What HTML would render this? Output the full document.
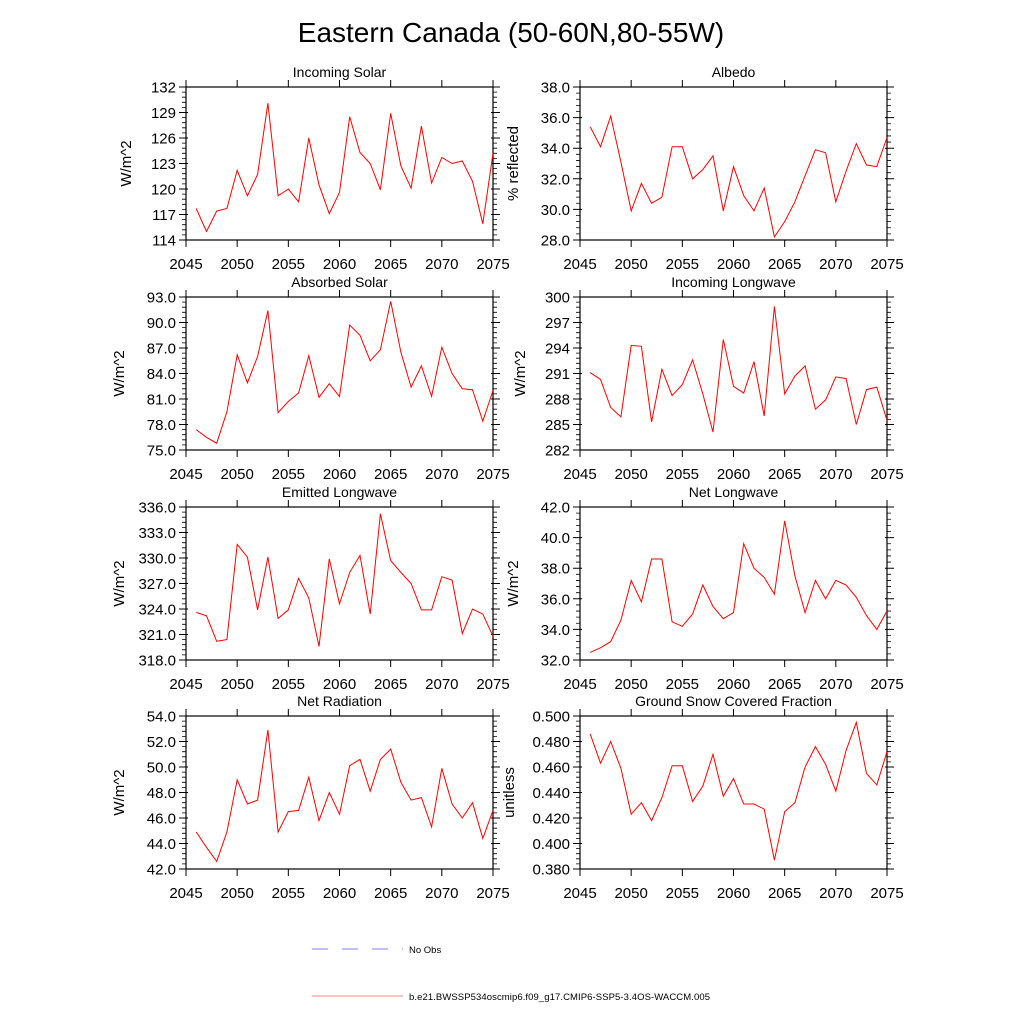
<!DOCTYPE html>
<html><head><meta charset="utf-8"><style>
html,body{margin:0;padding:0;background:#fff;}
svg text{font-family:"Liberation Sans",Arial,sans-serif;fill:#000;}
</style></head><body>
<svg id="chart" width="1024" height="1024" viewBox="0 0 1024 1024" xmlns="http://www.w3.org/2000/svg">
<rect width="1024" height="1024" fill="#fff"/>
<text x="511" y="42" font-size="28" text-anchor="middle">Eastern Canada (50-60N,80-55W)</text>
<g id="panels"></g>
<g>
<line x1="312" y1="949" x2="403" y2="949" stroke="#8080ff" stroke-width="1" stroke-dasharray="16,14"/>
<text x="409" y="953" font-size="9.5">No Obs</text>
<line x1="312" y1="996" x2="403" y2="996" stroke="#ff8080" stroke-width="1"/>
<text x="409" y="1000" font-size="9.5" textLength="301">b.e21.BWSSP534oscmip6.f09_g17.CMIP6-SSP5-3.4OS-WACCM.005</text>
</g>
</svg>
<script>
const years = [2046,2047,2048,2049,2050,2051,2052,2053,2054,2055,2056,2057,2058,2059,2060,2061,2062,2063,2064,2065,2066,2067,2068,2069,2070,2071,2072,2073,2074,2075];
const xTicks = [2045,2050,2055,2060,2065,2070,2075];
const incomingSolar = [117.7,115.0,117.4,117.7,122.2,119.2,121.7,130.1,119.2,120.0,118.5,126.0,120.5,117.1,119.6,128.5,124.3,123.0,119.9,128.9,122.7,120.1,127.4,120.7,123.7,123.0,123.3,120.9,115.9,124.2];
const albedo = [35.4,34.1,36.1,33.1,29.9,31.7,30.4,30.8,34.1,34.1,32.0,32.6,33.5,29.9,32.8,30.9,29.9,31.4,28.2,29.2,30.5,32.2,33.9,33.7,30.5,32.5,34.3,32.9,32.8,34.7];
const absorbedSolar = [77.4,76.5,75.8,79.5,86.2,82.9,86.0,91.4,79.4,80.7,81.7,86.1,81.2,82.8,81.3,89.7,88.5,85.5,86.8,92.5,86.5,82.4,84.9,81.3,87.1,84.0,82.2,82.1,78.4,82.0];
const incomingLW = [291.1,290.3,287.0,285.9,294.3,294.2,285.3,291.5,288.4,289.7,292.6,288.6,284.1,295.0,289.5,288.7,292.4,286.0,298.9,288.6,290.7,291.9,286.8,287.9,290.6,290.4,285.0,289.1,289.4,285.5];
const emittedLW = [323.6,323.2,320.2,320.4,331.6,330.1,323.9,330.1,322.9,323.9,327.6,325.3,319.6,329.9,324.6,328.3,330.3,323.4,335.2,329.7,328.3,327.0,323.9,323.9,327.8,327.4,321.1,324.0,323.4,320.8];
const netLW = [32.5,32.8,33.2,34.6,37.2,35.8,38.6,38.6,34.5,34.2,35.0,36.9,35.5,34.7,35.1,39.6,38.0,37.4,36.3,41.1,37.5,35.1,37.2,36.0,37.2,36.9,36.1,34.9,34.0,35.2];
const netRad = [44.9,43.7,42.6,44.9,49.0,47.1,47.4,52.9,44.9,46.5,46.6,49.2,45.8,48.0,46.3,50.1,50.6,48.1,50.6,51.4,48.8,47.4,47.6,45.3,49.9,47.1,46.0,47.2,44.4,46.6];
const snowFrac = [0.486,0.463,0.480,0.459,0.423,0.432,0.418,0.436,0.461,0.461,0.433,0.445,0.470,0.437,0.451,0.431,0.431,0.427,0.387,0.425,0.432,0.460,0.476,0.462,0.441,0.473,0.495,0.455,0.446,0.472];
const yTicksSolar = [114,117,120,123,126,129,132];
const yTicksAlbedo = [28,30,32,34,36,38];
const yTicksAbs = [75,78,81,84,87,90,93];
const yTicksILW = [282,285,288,291,294,297,300];
const yTicksELW = [318,321,324,327,330,333,336];
const yTicksNLW = [32,34,36,38,40,42];
const yTicksNR = [42,44,46,48,50,52,54];
const yTicksSnow = [0.38,0.40,0.42,0.44,0.46,0.48,0.50];

const panels = [
 {name:'incoming-solar',title:'Incoming Solar',ylab:'W/m^2',data:incomingSolar,ticks:yTicksSolar,dec:0,col:0,row:0},
 {name:'albedo',title:'Albedo',ylab:'% reflected',data:albedo,ticks:yTicksAlbedo,dec:1,col:1,row:0},
 {name:'absorbed-solar',title:'Absorbed Solar',ylab:'W/m^2',data:absorbedSolar,ticks:yTicksAbs,dec:1,col:0,row:1},
 {name:'incoming-longwave',title:'Incoming Longwave',ylab:'W/m^2',data:incomingLW,ticks:yTicksILW,dec:0,col:1,row:1},
 {name:'emitted-longwave',title:'Emitted Longwave',ylab:'W/m^2',data:emittedLW,ticks:yTicksELW,dec:1,col:0,row:2},
 {name:'net-longwave',title:'Net Longwave',ylab:'W/m^2',data:netLW,ticks:yTicksNLW,dec:1,col:1,row:2},
 {name:'net-radiation',title:'Net Radiation',ylab:'W/m^2',data:netRad,ticks:yTicksNR,dec:1,col:0,row:3},
 {name:'snow-fraction',title:'Ground Snow Covered Fraction',ylab:'unitless',data:snowFrac,ticks:yTicksSnow,dec:3,col:1,row:3}
];
const NS='http://www.w3.org/2000/svg';
const root=document.getElementById('panels');
const lefts=[186,580], tops=[87,297,507,716], W=307, H=153;
function mk(tag,attrs,parent){const e=document.createElementNS(NS,tag);for(const k in attrs)e.setAttribute(k,attrs[k]);parent.appendChild(e);return e;}
panels.forEach(p=>{
  const L=lefts[p.col], T=tops[p.row];
  const g=mk('g',{},root);
  
  
  const x0=xTicks[0], x1=xTicks[xTicks.length-1];
  const y0=p.ticks[0], y1=p.ticks[p.ticks.length-1];
  const sx=v=>L+(v-x0)/(x1-x0)*W;
  const sy=v=>T+H-(v-y0)/(y1-y0)*H;
  let d='';
  xTicks.forEach(v=>{const x=sx(v);d+=`M${x},${T+H}v7M${x},${T}v-7`;});
  const step=p.ticks[1]-p.ticks[0];
  let dm='';
  for(let i=0;i<p.ticks.length;i++){
    const y=sy(p.ticks[i]);d+=`M${L-7},${y}h9M${L+W-2},${y}h9`;
    if(i<p.ticks.length-1){for(let k=1;k<5;k++){const yy=sy(p.ticks[i]+step*k/5);dm+=`M${L-4},${yy}h4M${L+W},${yy}h4`;}}
  }
  const tk=mk('path',{d:d,stroke:'#000','stroke-width':1,fill:'none'},g);
  
  
  const tm=mk('path',{d:dm,stroke:'#000','stroke-width':0.8,fill:'none'},g);
  
  
  const box=mk('rect',{x:L,y:T,width:W,height:H,fill:'none',stroke:'#000','stroke-width':1.2},g);
  
  
  xTicks.forEach(v=>{const t=mk('text',{x:sx(v),y:T+H+29,'font-size':15,'text-anchor':'middle'},g);t.textContent=v;
    
    });
  p.ticks.forEach(v=>{const t=mk('text',{x:L-10,y:sy(v)+5.5,'font-size':15,'text-anchor':'end'},g);t.textContent=v.toFixed(p.dec);
    
    });
  const tt=mk('text',{x:L+W/2,y:T-10,'font-size':14,'text-anchor':'middle'},g);tt.textContent=p.title;
  
  
  const yl=mk('text',{x:0,y:0,'font-size':15,'text-anchor':'middle',transform:`translate(${L-(p.dec===0?55:p.dec===3?66:62)},${T+H/2}) rotate(-90)`},g);yl.textContent=p.ylab;
  
  
  const pts=p.data.map((v,i)=>sx(years[i]).toFixed(1)+','+sy(v).toFixed(1)).join(' ');
  const ln=mk('polyline',{points:pts,fill:'none',stroke:'#ff0000','stroke-width':1},g);
  
  
});
</script>
</body></html>
